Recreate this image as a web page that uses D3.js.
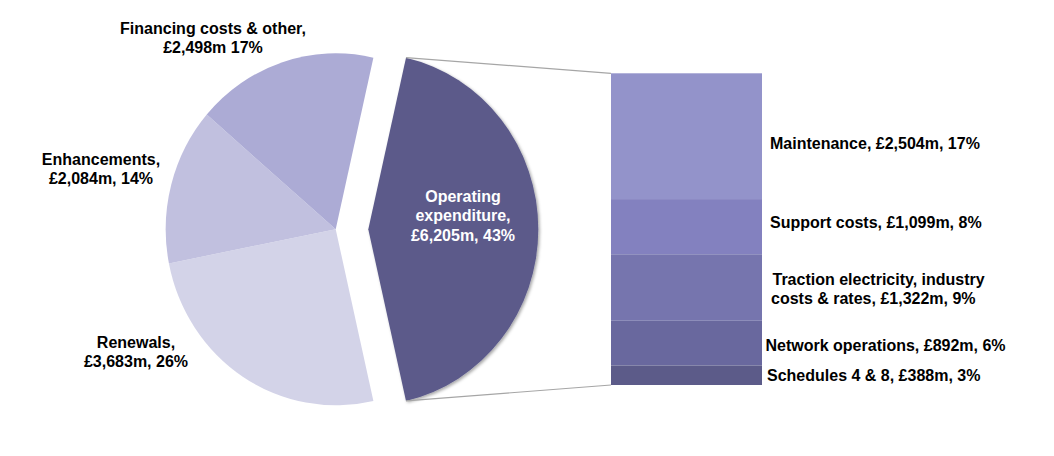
<!DOCTYPE html>
<html><head><meta charset="utf-8">
<script src="https://cdn.jsdelivr.net/npm/d3@7"></script>
<style>
html,body{margin:0;padding:0;background:#fff;}
svg{display:block;font-family:"Liberation Sans",Arial,sans-serif;font-weight:bold;}
</style></head>
<body>
<svg id="chart" width="1054" height="456"></svg>
<script>
// ---- data ----
const pieCategories = ["Operating expenditure", "Renewals", "Enhancements", "Financing costs & other"];
const pieValues = [6205, 3683, 2084, 2498];
const piePercents = [43, 26, 14, 17];
const pieColors = ["#5b5a8a", "#d3d3e8", "#c1c0df", "#acabd5"];

const barCategories = ["Maintenance", "Support costs", "Traction electricity, industry costs & rates", "Network operations", "Schedules 4 & 8"];
const barValues = [2504, 1099, 1322, 892, 388];
const barPercents = [17, 8, 9, 6, 3];
const barColors = ["#9393ca", "#8381bf", "#7675ae", "#69689e", "#5c5b89"];

const fmt = d3.format(",");
const svg = d3.select("#chart");

// ---- pie ----
const cx = 335.7, cy = 229.3, r = 170, yScale = 176 / 170, explode = 32.6;
const opFrac = pieValues[0] / d3.sum(pieValues);
const start = Math.PI / 2 - opFrac * Math.PI;
const pie = d3.pie().sort(null).value(d => d).startAngle(start).endAngle(start + 2 * Math.PI);
const arcs = pie(pieValues);
const arc = d3.arc().innerRadius(0).outerRadius(r);

const defs = svg.append("defs");
const f = defs.append("filter").attr("id", "sh").attr("x", "-20%").attr("y", "-20%").attr("width", "140%").attr("height", "140%");
f.append("feDropShadow").attr("dx", 1.5).attr("dy", 1.5).attr("stdDeviation", 1.6)
  .attr("flood-color", "#000").attr("flood-opacity", 0.35);

const g = svg.append("g").attr("transform", `translate(${cx},${cy}) scale(1,${yScale})`);
g.selectAll("path").data(arcs).join("path")
  .attr("d", arc)
  .attr("fill", (d, i) => pieColors[i])
  .attr("transform", (d, i) => i === 0 ? `translate(${explode},0)` : null)
  .attr("filter", (d, i) => i === 0 ? "url(#sh)" : null);

// ---- bar ----
const barX0 = 611, barX1 = 762, barTop = 73.3, barBottom = 385;
const total = d3.sum(barValues);
const yBar = d3.scaleLinear().domain([0, total]).range([barTop, barBottom]);
const cum = d3.cumsum(barValues);
const segs = barValues.map((v, i) => ({ v, y0: cum[i] - v, y1: cum[i], i }));
svg.append("g").selectAll("rect").data(segs).join("rect")
  .attr("x", barX0).attr("width", barX1 - barX0)
  .attr("y", d => yBar(d.y0)).attr("height", d => yBar(d.y1) - yBar(d.y0))
  .attr("fill", d => barColors[d.i]);

// ---- connector lines ----
const a0 = arcs[0];
const pTop = [cx + explode + r * Math.sin(a0.startAngle), cy - r * yScale * Math.cos(a0.startAngle)];
const pBot = [cx + explode + r * Math.sin(a0.endAngle), cy - r * yScale * Math.cos(a0.endAngle)];
svg.append("line").attr("x1", pTop[0]).attr("y1", pTop[1]).attr("x2", barX0).attr("y2", yBar(0))
  .attr("stroke", "#a6a6a6").attr("stroke-width", 1.2);
svg.append("line").attr("x1", pBot[0]).attr("y1", pBot[1]).attr("x2", barX0).attr("y2", yBar(total))
  .attr("stroke", "#a6a6a6").attr("stroke-width", 1.2);

// ---- labels ----
function multi(x, ys, lines, anchor, fill) {
  const t = svg.append("text").attr("text-anchor", anchor).attr("font-size", 16).attr("fill", fill);
  lines.forEach((l, k) => t.append("tspan").attr("x", Array.isArray(x) ? x[k] : x).attr("y", ys[k]).text(l));
}
const money = v => "£" + fmt(v) + "m";
// Operating
multi(463, [201.7, 220.9, 240.5], ["Operating", "expenditure,", money(pieValues[0]) + ", " + piePercents[0] + "%"], "middle", "#fff");
// Renewals
multi(136, [348.3, 367], [pieCategories[1] + ",", money(pieValues[1]) + ", " + piePercents[1] + "%"], "middle", "#000");
// Enhancements
multi(101, [165, 183.8], [pieCategories[2] + ",", money(pieValues[2]) + ", " + piePercents[2] + "%"], "middle", "#000");
// Financing
multi(213, [33.5, 52.7], [pieCategories[3] + ",", money(pieValues[3]) + " " + piePercents[3] + "%"], "middle", "#000");

// bar labels
multi(770, [148.5], [barCategories[0] + ", " + money(barValues[0]) + ", " + barPercents[0] + "%"], "start", "#000");
multi(770, [228], [barCategories[1] + ", " + money(barValues[1]) + ", " + barPercents[1] + "%"], "start", "#000");
multi([772.5, 771], [285, 303.5], ["Traction electricity, industry", "costs & rates, " + money(barValues[2]) + ", " + barPercents[2] + "%"], "start", "#000");
multi(765.5, [350.5], [barCategories[3] + ", " + money(barValues[3]) + ", " + barPercents[3] + "%"], "start", "#000");
multi(767, [381], [barCategories[4] + ", " + money(barValues[4]) + ", " + barPercents[4] + "%"], "start", "#000");
</script>
</body></html>
